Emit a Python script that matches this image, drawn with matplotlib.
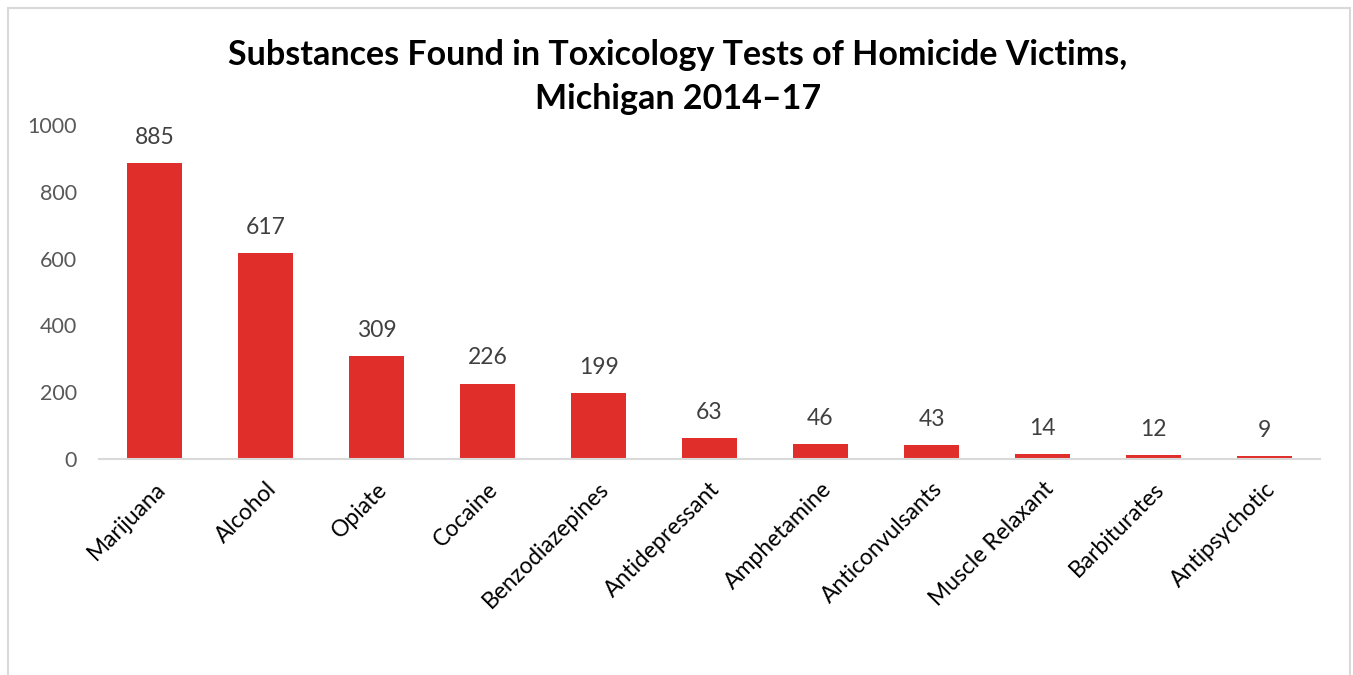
import matplotlib
matplotlib.use("Agg")
import matplotlib.pyplot as plt
from matplotlib.patches import Rectangle

categories = ["Marijuana", "Alcohol", "Opiate", "Cocaine", "Benzodiazepines",
              "Antidepressant", "Amphetamine", "Anticonvulsants", "Muscle Relaxant",
              "Barbiturates", "Antipsychotic"]
counts = [885, 617, 309, 226, 199, 63, 46, 43, 14, 12, 9]
y_ticks = [0, 200, 400, 600, 800, 1000]

plt.rcParams["font.family"] = ["Lato", "DejaVu Sans"]

W, H = 1353, 675
fig = plt.figure(figsize=(W / 100, H / 100), dpi=100)

# outer chart frame (bottom is cut off in the reference)
fig.patches.append(Rectangle((8 / W, -0.01), 1342 / W, 1 - 8 / H + 0.01,
                             transform=fig.transFigure, fill=False,
                             edgecolor="#D9D9D9", linewidth=1.5))

ax = fig.add_axes([99 / W, 1 - 459 / H, 1221 / W, 334 / H])
x = range(len(categories))
ax.bar(x, counts, width=0.5, color="#E02E2A")
for i, v in enumerate(counts):
    ax.text(i, v + 45, str(v), ha="center", va="bottom", fontsize=16.5, color="#404040")

ax.set_xlim(-0.5, len(categories) - 0.5)
ax.set_ylim(0, 1000)
ax.set_yticks(y_ticks)
ax.set_yticklabels([str(t) for t in y_ticks], fontsize=15.5, color="#595959")
ax.set_xticks(list(x))
ax.set_xticklabels(categories, rotation=45, ha="right", rotation_mode="anchor",
                   fontsize=16.5, color="black")
ax.tick_params(axis="both", length=0)
ax.tick_params(axis="y", pad=16)
ax.tick_params(axis="x", pad=14)
for side in ["top", "right", "left"]:
    ax.spines[side].set_visible(False)
ax.spines["bottom"].set_color("#D9D9D9")
ax.spines["bottom"].set_linewidth(1.5)

fig.text(678 / W, 1 - 55 / H, "Substances Found in Toxicology Tests of Homicide Victims,",
         ha="center", va="center", fontsize=24.5, fontweight="bold")
fig.text(678 / W, 1 - 99 / H, "Michigan 2014\u201317",
         ha="center", va="center", fontsize=24.5, fontweight="bold")

fig.savefig("out.png", dpi=100)
